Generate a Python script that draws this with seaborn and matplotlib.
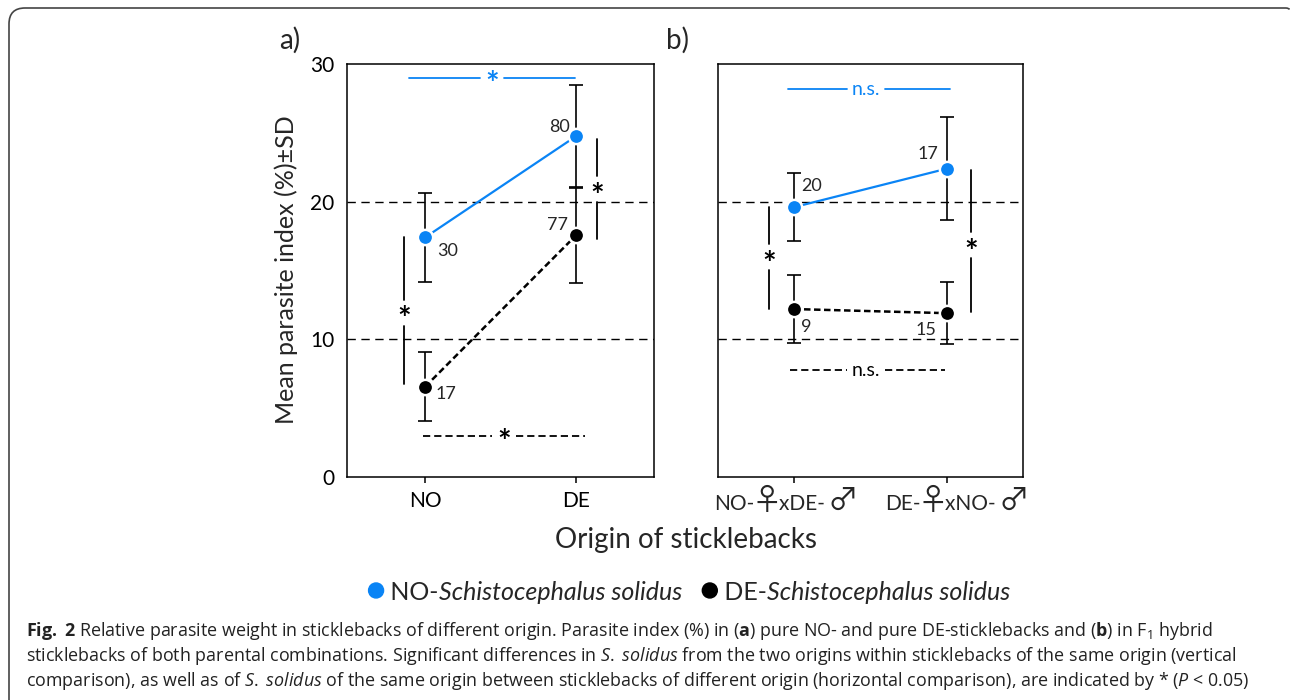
import matplotlib
matplotlib.use('Agg')
import matplotlib.pyplot as plt
import seaborn as sns
import numpy as np
import pandas as pd
from matplotlib.patches import Circle, PathPatch
from matplotlib.path import Path
from matplotlib.offsetbox import (HPacker, TextArea, DrawingArea, AnchoredOffsetbox,
                                  AnnotationBbox)

# Data
origins_a = ['NO', 'DE']
no_mean_a = [17.4, 24.75]
no_sd_a = [3.2, 3.7]
de_mean_a = [6.55, 17.55]
de_sd_a = [2.5, 3.45]
n_no_a = [30, 80]
n_de_a = [17, 77]

origins_b = ['NO-\u2640xDE- \u2642', 'DE-\u2640xNO- \u2642']
no_mean_b = [19.6, 22.4]
no_sd_b = [2.45, 3.75]
de_mean_b = [12.2, 11.9]
de_sd_b = [2.48, 2.27]
n_no_b = [20, 17]
n_de_b = [9, 15]

# significance brackets
# horizontal: (y, x0, x1, label, star centre x); vertical: (x, y0, y1, star centre y)
horiz_a = [(29.0, -0.106, 0.993, '*', 0.445), (3.0, -0.013, 1.06, '*', 0.523)]
vert_a = [(-0.139, 6.73, 17.45, 11.94), (1.139, 17.28, 24.55, 20.9)]
horiz_b = [(28.18, -0.039, 1.02, 'n.s.', 0.47), (7.77, -0.026, 0.987, 'n.s.', 0.47)]
vert_b = [(-0.163, 12.2, 19.6, 15.97), (1.157, 12.0, 22.3, 16.85)]

BLUE = '#0A84F5'
SYMBOLS = '\u2640\u2642'

sns.set_style('white')
plt.rcParams['font.family'] = ['Lato', 'DejaVu Sans']
plt.rcParams['mathtext.fontset'] = 'custom'
plt.rcParams['mathtext.rm'] = 'Open Sans'
plt.rcParams['mathtext.it'] = 'Open Sans:italic'
plt.rcParams['mathtext.bf'] = 'Open Sans:bold'


def gapped_line(ax, p0, p1, centre, gap_px, **kw):
    """Line from p0 to p1 with a blank of gap_px pixels around centre."""
    t = ax.transData
    c = t.transform(centre)
    d = np.array(t.transform(p1)) - np.array(t.transform(p0))
    d = d / np.hypot(*d)
    a = t.inverted().transform(c - d * gap_px / 2)
    b = t.inverted().transform(c + d * gap_px / 2)
    ax.plot([p0[0], a[0]], [p0[1], a[1]], **kw)
    ax.plot([b[0], p1[0]], [b[1], p1[1]], **kw)


def draw_panel(ax, labels, no_mean, no_sd, de_mean, de_sd, n_no, n_de,
               no_off, de_off, horiz, vert, xlim):
    pos = np.arange(len(labels))
    df = pd.DataFrame({
        'pos': np.r_[pos, pos],
        'mean': no_mean + de_mean,
        'sd': no_sd + de_sd,
        'parasite': ['NO'] * len(pos) + ['DE'] * len(pos),
    })
    ax.set_xlim(*xlim)
    ax.set_ylim(0, 30)

    ax.axhline(10, color='black', lw=1, ls=(0, (6, 4)), zorder=1)
    ax.axhline(20, color='black', lw=1, ls=(0, (6, 4)), zorder=1)

    for name in ['NO', 'DE']:
        sub = df[df.parasite == name]
        ax.errorbar(sub['pos'], sub['mean'], yerr=sub['sd'], fmt='none',
                    ecolor='black', elinewidth=1.2, capsize=5, capthick=1.2, zorder=2)

    sns.lineplot(data=df[df.parasite == 'DE'], x='pos', y='mean', ax=ax,
                 color='black', lw=1.8, ls=(0, (2.6, 1.4)), marker='o', ms=11,
                 mec='white', mew=1.8, zorder=3)
    sns.lineplot(data=df[df.parasite == 'NO'], x='pos', y='mean', ax=ax,
                 color=BLUE, lw=1.6, marker='o', ms=11,
                 mec='white', mew=1.8, zorder=4)

    for i in pos:
        ax.annotate(str(n_no[i]), (i, no_mean[i]), xytext=no_off[i],
                    textcoords='offset pixels', ha='center', va='center', fontsize=13)
        ax.annotate(str(n_de[i]), (i, de_mean[i]), xytext=de_off[i],
                    textcoords='offset pixels', ha='center', va='center', fontsize=13)

    for k, (y, x0, x1, lab, xc) in enumerate(horiz):
        col = BLUE if k == 0 else 'black'
        ls = '-' if k == 0 else (0, (4, 2.2))
        if lab == '*':
            gapped_line(ax, (x0, y), (x1, y), (xc, y), 24, color=col, lw=1.3, ls=ls)
            ax.annotate('*', (xc, y), xytext=(0, -8), textcoords='offset pixels',
                        color=col, ha='center', va='center', fontsize=23, fontweight='bold')
        else:
            gapped_line(ax, (x0, y), (x1, y), (xc, y), 38, color=col, lw=1.3, ls=ls)
            ax.text(xc, y, lab, color=col, ha='center', va='center', fontsize=14)

    for x, y0, y1, yc in vert:
        gapped_line(ax, (x, y0), (x, y1), (x, yc), 26, color='black', lw=1.3)
        ax.annotate('*', (x, yc), xytext=(0, -8), textcoords='offset pixels',
                    color='black', ha='center', va='center', fontsize=23, fontweight='bold')

    ax.set_xticks(pos)
    ax.set_xticklabels(labels)
    ax.set_xlabel('')
    ax.set_ylabel('')
    for sp in ax.spines.values():
        sp.set_visible(True)
        sp.set_color('black')
        sp.set_linewidth(1.1)
    ax.tick_params(axis='x', bottom=True, direction='out', length=4, width=1.1,
                   pad=6, labelsize=15, colors='black')
    ax.tick_params(axis='y', left=False, length=0, pad=9, labelsize=15, colors='black')
    ax.grid(False)


fig = plt.figure(figsize=(12.9, 7), dpi=100)
ax_a = fig.add_axes([347 / 1290, 223 / 700, 307 / 1290, 413 / 700])
ax_b = fig.add_axes([718 / 1290, 223 / 700, 305 / 1290, 413 / 700])

draw_panel(ax_a, origins_a, no_mean_a, no_sd_a, de_mean_a, de_sd_a, n_no_a, n_de_a,
           [(23, -14), (-16, 9)], [(21, -7), (-18, 10)], horiz_a, vert_a, (-0.517, 1.517))
ax_a.set_yticks([0, 10, 20, 30])

draw_panel(ax_b, origins_b, no_mean_b, no_sd_b, de_mean_b, de_sd_b, n_no_b, n_de_b,
           [(18, 21), (-19, 15)], [(12, -18), (-21, -17)], horiz_b, vert_b, (-0.497, 1.497))
ax_b.set_yticks([])

# panel b tick labels: the sex symbols are drawn much larger than the letters
ax_b.set_xticklabels([])
for i, (label, dx) in enumerate(zip(origins_b, [-8, 10])):
    pieces, cur = [], ''
    for ch in label:
        if ch in SYMBOLS:
            if cur:
                pieces.append(TextArea(cur, textprops=dict(fontsize=15, family=['Lato'])))
            pieces.append(TextArea(ch, textprops=dict(fontsize=22,
                                                      family=['Noto Sans CJK JP', 'DejaVu Sans'])))
            cur = ''
        else:
            cur += ch
    if cur:
        pieces.append(TextArea(cur, textprops=dict(fontsize=15, family=['Lato'])))
    pack = HPacker(children=pieces, align='baseline', pad=0, sep=-2)
    ab = AnnotationBbox(pack, (i, 0), xycoords=ax_b.get_xaxis_transform(),
                        xybox=(dx, -40), boxcoords='offset pixels', box_alignment=(0.5, 0),
                        frameon=False, pad=0, annotation_clip=False)
    ax_b.add_artist(ab)

fig.text(290 / 1290, 1 - 40 / 700, 'a)', ha='center', va='center', fontsize=20)
fig.text(677 / 1290, 1 - 40 / 700, 'b)', ha='center', va='center', fontsize=20)
fig.text(286 / 1290, 1 - 270 / 700, 'Mean parasite index (%)\u00b1SD', rotation=90,
         ha='center', va='center', fontsize=18)
fig.text(686 / 1290, 1 - 540 / 700, 'Origin of sticklebacks', ha='center', va='center',
         fontsize=20)

# legend built from pieces so only the species name is italic
def legend_piece(color, prefix):
    da = DrawingArea(12, 13, 0, 0)
    da.add_artist(Circle((6, 6.5), 5.4, color=color))
    t1 = TextArea(prefix, textprops=dict(fontsize=18, family=['Lato']))
    t2 = TextArea('Schistocephalus solidus', textprops=dict(fontsize=18, family=['Lato'], style='italic'))
    return [da, t1, t2]

p1 = HPacker(children=legend_piece(BLUE, ' NO-'), align='baseline', pad=0, sep=0)
p2 = HPacker(children=legend_piece('black', ' DE-'), align='baseline', pad=0, sep=0)
leg = HPacker(children=[p1, p2], align='baseline', pad=0, sep=14)
fig.add_artist(AnchoredOffsetbox(loc='center', child=leg, pad=0, borderpad=0, frameon=False,
                                 bbox_to_anchor=(689 / 1290, 1 - 592 / 700),
                                 bbox_transform=fig.transFigure))

cap1 = (r'$\mathbf{Fig.}$ $\mathbf{2}$ Relative parasite weight in sticklebacks of different origin. '
        r'Parasite index (%) in ($\mathbf{a}$) pure NO- and pure DE-sticklebacks and '
        r'($\mathbf{b}$) in $\mathrm{F}_{1}$ hybrid')
cap2 = (r'sticklebacks of both parental combinations. Significant differences in '
        r'$\mathit{S.}$ $\mathit{solidus}$ from the two origins within sticklebacks of the same origin (vertical')
cap3 = (r'comparison), as well as of $\mathit{S.}$ $\mathit{solidus}$ of the same origin between sticklebacks '
        r'of different origin (horizontal comparison), are indicated by * ($\mathit{P}$ < 0.05)')
for yy, line in zip([631, 656, 681], [cap1, cap2, cap3]):
    fig.text(26 / 1290, 1 - yy / 700, line, ha='left', va='center', fontsize=12.9,
             family=['Open Sans'], color='#222222')

# outer frame of the figure box: open path kept inside the canvas
r = 0.16
verts = [(0.09, -0.2), (0.09, 6.92 - r), (0.09, 6.92), (0.09 + r, 6.92),
         (12.86, 6.92), (12.89, 6.918), (12.895, 6.905)]
codes = [Path.MOVETO, Path.LINETO, Path.CURVE3, Path.CURVE3,
         Path.LINETO, Path.CURVE3, Path.CURVE3]
fig.add_artist(PathPatch(Path(verts, codes), transform=fig.dpi_scale_trans,
                         fill=False, ec='#444444', lw=1.2))

fig.savefig('out.png', dpi=100)
